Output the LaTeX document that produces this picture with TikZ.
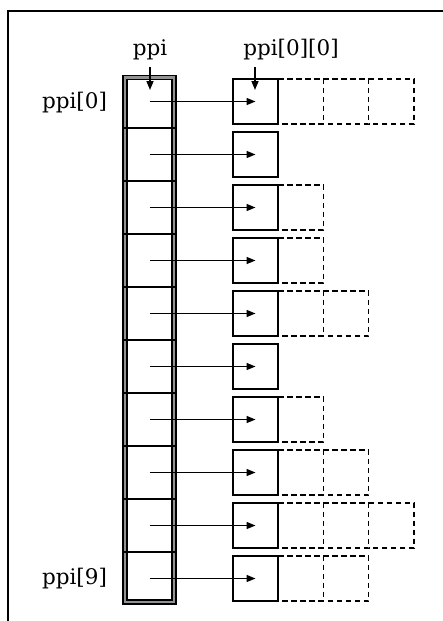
\documentclass[tikz,border=0pt]{standalone}
\usepackage{fontspec}
\setmainfont{DejaVu Serif}
\usetikzlibrary{arrows.meta}
\begin{document}
\begin{tikzpicture}[x=1pt,y=-1pt,
  cellbox/.style={draw, line width=1.5pt, minimum width=45.3pt, minimum height=45pt, inner sep=0pt, outer sep=0pt},
  dashbox/.style={minimum width=45.3pt, minimum height=45pt, inner sep=0pt, outer sep=0pt},
  dashline/.style={line width=1.4pt, dash pattern=on 5.5pt off 3.5pt},
  ptr/.style={line width=1.5pt, -{Triangle[length=9pt,width=7pt]}},
  lbl/.style={font=\fontsize{21.5}{24}\selectfont, inner sep=0pt}]
\useasboundingbox (0,0) rectangle (443,621);
% frame
\draw[line width=2.6pt] (8,621) -- (8,11) -- (443,11);
% pointer column
\draw[line width=5.2pt] (125,77.5) rectangle (174,602);
\draw[line width=2.8pt, gray!85] (125,77.5) rectangle (174,602);
\foreach \k in {0,...,8} \draw[line width=1.5pt] (123,{128+53*\k}) -- (176,{128+53*\k});
% rows
\foreach \k/\n in {0/3,1/0,2/1,3/1,4/2,5/0,6/1,7/2,8/3,9/2}{
  \coordinate (c\k) at (149.5,{101.5+53*\k});
  \ifnum\n>0
    \foreach \j in {1,...,\n}{
      \node[dashbox] (d\k-\j) at ({255.5+45.3*\j},{101.5+53*\k}) {};
      \draw[dashline] (d\k-\j.north west) -- (d\k-\j.north east) -- (d\k-\j.south east) -- (d\k-\j.south west);
    }
  \fi
  \node[cellbox] (b\k) at (255.5,{101.5+53*\k}) {};
  \draw[ptr] (c\k) -- (b\k.center);
}
% labels
\node[lbl, anchor=base] (lppi) at (150,55) {ppi};
\node[lbl, anchor=base] (l00) at (291,55) {ppi[0][0]};
\node[lbl, anchor=base] (l0) at (74.5,108) {ppi[0]};
\node[lbl, anchor=base] (l9) at (74.5,584) {ppi[9]};
\coordinate (s1) at (150,67);
\coordinate (t1) at (150,90);
\coordinate (s2) at (255,67);
\coordinate (t2) at (255,90);
\draw[ptr] (s1) -- (t1);
\draw[ptr] (s2) -- (t2);
\end{tikzpicture}
\end{document}
